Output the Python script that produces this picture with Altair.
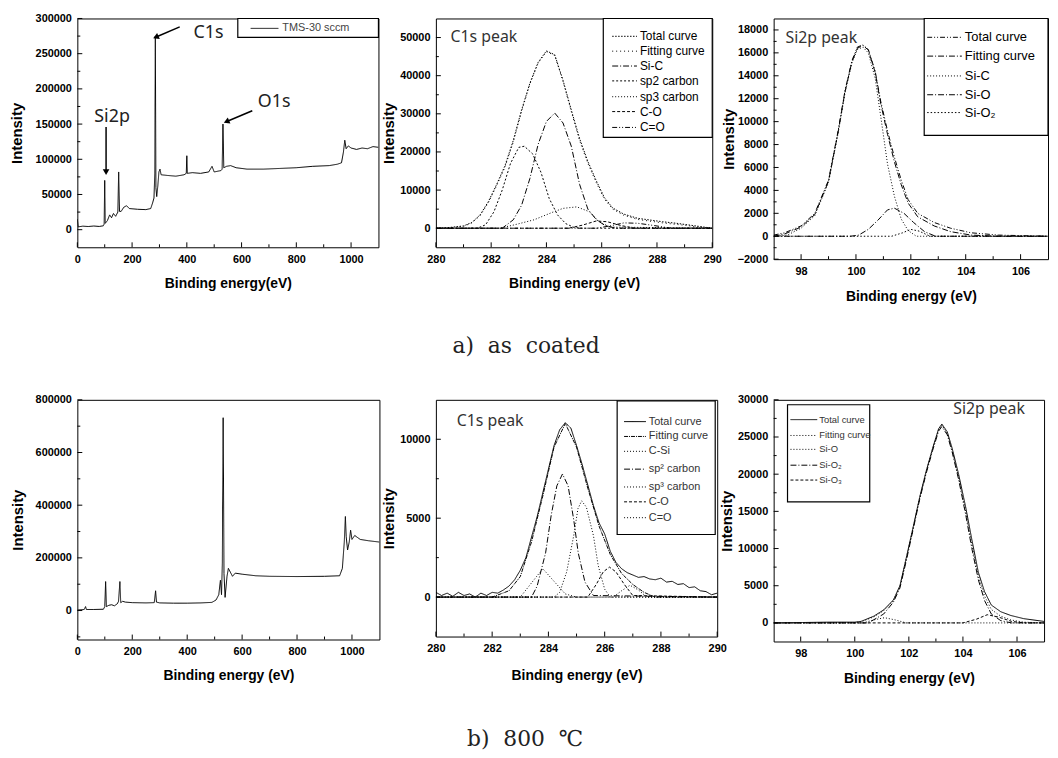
import altair as alt
import pandas as pd

FONT = "Liberation Sans"
SANS = "Noto Sans"
SERIF = "DejaVu Serif"

# ---------------- survey spectra ----------------
SURV_A_E = [0, 3, 20, 40, 60, 80, 95, 98, 100, 102, 110, 118, 125, 132, 140, 148, 151, 154, 160, 170,
            180, 190, 220, 250, 268, 275, 280, 283, 285, 287, 290, 294, 298, 302, 306, 330, 360, 390, 398, 400,
            402, 420, 450, 480, 492, 500, 525, 529, 532, 535, 545, 560, 580, 620, 680, 740, 800, 860, 920, 950,
            965, 972, 977, 982, 990, 1000, 1020, 1040, 1060, 1080, 1100]
SURV_A_I = [15000, 4000, 5000, 4500, 5200, 4600, 5500, 8000, 70000, 9000, 13000, 21000, 17000, 23000, 19000, 25000, 82000, 26000, 26000, 32000,
            34000, 30000, 29000, 28500, 30000, 38000, 45000, 80000, 275000, 60000, 47000, 62000, 82000, 86000, 78000, 77000, 76000, 78000, 80000, 105000,
            80000, 81000, 80000, 82000, 90000, 82000, 84000, 86000, 150000, 88000, 90000, 91000, 88000, 86000, 86000, 87000, 88000, 90000, 91000, 93000,
            95000, 110000, 127000, 115000, 119000, 116000, 114000, 116000, 115000, 118000, 117000]

SURV_B_E = [0, 10, 25, 30, 33, 60, 95, 100, 103, 106, 115, 125, 135, 145, 150, 155, 158, 165, 175, 200,
            250, 280, 285, 288, 300, 350, 400, 450, 490, 505, 515, 521, 525, 528, 531, 534, 538, 545, 550, 555,
            565, 575, 600, 650, 700, 800, 900, 955, 965, 972, 976, 979, 984, 990, 995, 1000, 1010, 1030, 1060, 1100]
SURV_B_I = [2000, 3000, 4000, 15000, 4000, 4000, 5000, 15000, 110000, 15000, 20000, 22000, 18000, 25000, 35000, 110000, 30000, 35000, 32000, 30000,
            29000, 30000, 75000, 32000, 29000, 28000, 28000, 29000, 31000, 40000, 60000, 115000, 60000, 180000, 732000, 140000, 50000, 130000, 160000, 150000,
            130000, 142000, 138000, 132000, 130000, 129000, 130000, 132000, 160000, 260000, 357000, 280000, 230000, 260000, 305000, 270000, 285000, 270000, 265000, 260000]

# annotations of the as-coated survey
ANN_TEXT = ["C1s", "Si2p", "O1s"]
ANN_E = [479, 127, 719]
ANN_I = [278600, 160000, 182000]
ARR_E0 = [374, 105, 639]
ARR_I0 = [288000, 146000, 169000]
ARR_E1 = [290, 105, 548]
ARR_I1 = [274000, 83000, 154000]

# ---------------- C1s, as coated ----------------
C1A_NAMES = ["Total curve", "Fitting curve", "Si-C", "sp2 carbon", "sp3 carbon", "C-O", "C=O"]
C1A_TOT_E = [280.0, 280.5, 281.0, 281.3, 281.6, 281.9, 282.2, 282.5, 282.8, 283.1, 283.4, 283.7, 284.0, 284.3, 284.6,
             284.9, 285.2, 285.5, 285.8, 286.1, 286.4, 286.8, 287.3, 287.8, 288.2, 288.7, 289.1, 289.5, 290.0]
C1A_TOT_I = [0, 200, 600, 1500, 3500, 7000, 11500, 16400, 23000, 31000, 38000, 43500, 46500, 45500, 38800,
             31000, 23500, 17500, 12500, 8000, 5300, 3700, 2600, 2100, 1700, 1300, 900, 500, 0]
C1A_FIT_I = [0, 100, 500, 1400, 3300, 6700, 11200, 16000, 22600, 30600, 37800, 43300, 46300, 45300, 38500,
             30600, 23000, 17000, 12000, 7600, 5000, 3400, 2300, 1800, 1400, 1000, 700, 300, 0]
C1A_SIC_E = [280.0, 282.4, 282.8, 283.1, 283.4, 283.7, 284.0, 284.3, 284.6, 284.9, 285.2, 285.5, 285.8, 286.1, 286.5, 290.0]
C1A_SIC_I = [0, 0, 2200, 6000, 13000, 22000, 28000, 30200, 27600, 21500, 11500, 5000, 2300, 800, 0, 0]
C1A_SP2_E = [280.0, 281.5, 281.8, 282.1, 282.4, 282.7, 283.0, 283.2, 283.5, 283.8, 284.1, 284.4, 284.7, 285.0, 285.3, 290.0]
C1A_SP2_I = [0, 0, 900, 4300, 10000, 17000, 21200, 21500, 19500, 14700, 7800, 3500, 1200, 200, 0, 0]
C1A_SP3_E = [280.0, 282.3, 282.85, 283.55, 284.26, 284.6, 285.1, 285.56, 285.9, 286.3, 290.0]
C1A_SP3_I = [0, 0, 900, 2200, 4300, 5200, 5600, 4300, 1700, 300, 0]
C1A_CO_E = [280.0, 284.8, 285.3, 285.8, 286.2, 286.7, 287.2, 290.0]
C1A_CO_I = [0, 0, 800, 1900, 1700, 700, 0, 0]
C1A_CdO_E = [280.0, 285.8, 286.3, 286.8, 287.3, 287.9, 288.5, 290.0]
C1A_CdO_I = [0, 0, 600, 1400, 1300, 700, 0, 0]

# ---------------- Si2p, as coated ----------------
SIA_NAMES = ["Total curve", "Fitting curve", "Si-C", "Si-O", "Si-O\u2082"]
SIA_TOT_E = [97.0, 97.4, 98.0, 98.5, 99.0, 99.35, 99.6, 99.85, 100.05, 100.25, 100.45, 100.7, 100.9, 101.15,
             101.4, 101.65, 101.9, 102.25, 102.85, 103.45, 104.2, 105.2, 107.0]
SIA_TOT_I = [100, 300, 900, 2000, 4900, 9200, 12700, 15300, 16500, 16700, 16300, 14400, 11800, 9200,
             6900, 4900, 3200, 2000, 1200, 700, 300, 100, 0]
SIA_FIT_I = [0, 200, 800, 1900, 4800, 9100, 12600, 15200, 16400, 16650, 16250, 14300, 11600, 8900,
             6500, 4500, 2900, 1700, 900, 400, 100, 0, 0]
SIA_SIC_E = [97.0, 97.5, 98.0, 98.5, 99.0, 99.35, 99.6, 99.85, 100.05, 100.25, 100.45, 100.7, 100.9, 101.15,
             101.4, 101.65, 101.9, 102.2, 107.0]
SIA_SIC_I = [0, 100, 700, 1800, 4700, 9000, 12500, 15100, 16300, 16500, 16000, 13800, 10500, 6300,
             3500, 1500, 500, 0, 0]
SIA_SIO_E = [97.0, 99.8, 100.1, 100.45, 100.8, 101.15, 101.4, 101.75, 102.1, 102.5, 102.9, 107.0]
SIA_SIO_I = [0, 0, 100, 600, 1400, 2300, 2450, 2000, 1200, 400, 0, 0]
SIA_SIO2_E = [97.0, 101.3, 101.7, 102.0, 102.3, 102.7, 107.0]
SIA_SIO2_I = [0, 0, 300, 600, 450, 0, 0]

# ---------------- C1s, 800 C ----------------
C1B_NAMES = ["Total curve", "Fitting curve", "C-Si", "sp\u00b2 carbon", "sp\u00b3 carbon", "C-O", "C=O"]
C1B_TOT_E = [280.0, 280.2, 280.4, 280.6, 280.8, 281.0, 281.2, 281.4, 281.6, 281.8,
             282.0, 282.2, 282.4, 282.6, 282.8, 283.0, 283.2, 283.4, 283.6, 283.8,
             284.0, 284.2, 284.4, 284.6, 284.8, 285.0, 285.2, 285.4, 285.6, 285.8,
             286.0, 286.2, 286.4, 286.6, 286.8, 287.0, 287.2, 287.4, 287.6, 287.8,
             288.0, 288.2, 288.4, 288.6, 288.8, 289.0, 289.2, 289.4, 289.6, 289.8, 290.0]
C1B_TOT_I = [300, 100, 250, 50, 300, 100, 200, 0, 250, 100,
             300, 250, 450, 700, 1100, 1700, 2500, 3800, 5100, 6600,
             8100, 9600, 10600, 11050, 10700, 9600, 8400, 7100, 5800, 4700,
             4000, 2900, 2200, 1800, 1550, 1400, 1250, 1300, 1150, 1100,
             1200, 950, 1000, 800, 850, 600, 650, 400, 350, 150, 250]
C1B_FIT_E = [280.0, 282.0, 282.6, 283.0, 283.4, 283.8, 284.2, 284.6, 285.0, 285.4, 285.8, 286.2, 286.6, 287.0, 287.4, 287.8, 290.0]
C1B_FIT_I = [0, 0, 400, 1300, 3500, 6400, 9500, 11000, 9500, 6900, 4500, 2700, 1500, 800, 300, 0, 0]
C1B_CSI_E = [280.0, 283.0, 283.4, 283.8, 284.2, 284.6, 285.0, 290.0]
C1B_CSI_I = [0, 0, 900, 1800, 1000, 200, 0, 0]
C1B_SP2_E = [280.0, 283.4, 283.6, 283.9, 284.1, 284.3, 284.5, 284.7, 284.9, 285.06, 285.3, 285.6, 290.0]
C1B_SP2_I = [0, 0, 700, 2800, 5200, 7050, 7800, 7050, 4900, 2800, 950, 100, 0]
C1B_SP3_E = [280.0, 284.2, 284.4, 284.65, 284.9, 285.05, 285.18, 285.35, 285.6, 285.77, 286.0, 286.2, 290.0]
C1B_SP3_I = [0, 0, 300, 1600, 3900, 5600, 6100, 5700, 3900, 2000, 500, 0, 0]
C1B_CO_E = [280.0, 285.4, 285.7, 285.95, 286.17, 286.4, 286.7, 287.0, 290.0]
C1B_CO_I = [0, 0, 800, 1600, 1900, 1600, 800, 100, 0]
C1B_CdO_E = [280.0, 286.3, 286.6, 286.9, 287.2, 287.5, 290.0]
C1B_CdO_I = [0, 0, 400, 750, 450, 0, 0]

# ---------------- Si2p, 800 C ----------------
SIB_NAMES = ["Total curve", "Fitting curve", "Si-O", "Si-O\u2082", "Si-O\u2083"]
SIB_TOT_E = [97.0, 98.0, 99.0, 100.0, 100.23, 100.7, 101.07, 101.43, 101.67, 101.92, 102.16, 102.4, 102.64, 102.88,
             103.1, 103.22, 103.42, 103.6, 103.84, 104.1, 104.33, 104.57, 104.8, 105.05, 105.4, 105.77, 106.25, 107.0]
SIB_TOT_I = [0, 50, 100, 100, 200, 900, 1750, 3100, 5000, 9000, 12900, 16900, 20400, 23500,
             26100, 26750, 25700, 23500, 20000, 15600, 11200, 6800, 4200, 2400, 1500, 1000, 570, 200]
SIB_FIT_I = [0, 0, 0, 50, 150, 800, 1650, 3000, 4900, 8900, 12800, 16800, 20300, 23400,
             26000, 26600, 25500, 23200, 19600, 15000, 10500, 6300, 3600, 1800, 900, 400, 100, 0]
SIB_SIO_E = [97.0, 100.3, 100.7, 101.1, 101.5, 101.9, 107.0]
SIB_SIO_I = [0, 0, 400, 700, 400, 0, 0]
SIB_SIO2_E = [97.0, 100.5, 101.07, 101.43, 101.67, 101.92, 102.16, 102.4, 102.64, 102.88, 103.1, 103.22,
              103.42, 103.6, 103.84, 104.1, 104.33, 104.57, 104.8, 105.05, 105.4, 105.8, 107.0]
SIB_SIO2_I = [0, 0, 1200, 2800, 4700, 8600, 12600, 16600, 20100, 23200, 25800, 26400,
              25300, 23000, 19300, 14600, 10000, 5800, 3000, 1200, 300, 0, 0]
SIB_SIO3_E = [97.0, 104.0, 104.5, 104.9, 105.3, 105.8, 106.3, 107.0]
SIB_SIO3_I = [0, 0, 500, 1100, 800, 200, 0, 0]

# ---------------- tick values & texts ----------------
X_SURV = [0, 200, 400, 600, 800, 1000]
X_C1S = [280, 282, 284, 286, 288, 290]
X_SI = [98, 100, 102, 104, 106]
Y_SURV_A = [0, 50000, 100000, 150000, 200000, 250000, 300000]
Y_C1S_A = [0, 10000, 20000, 30000, 40000, 50000]
Y_SI_A = [-2000, 0, 2000, 4000, 6000, 8000, 10000, 12000, 14000, 16000, 18000]
Y_SURV_B = [0, 200000, 400000, 600000, 800000]
Y_C1S_B = [0, 5000, 10000]
Y_SI_B = [0, 5000, 10000, 15000, 20000, 25000, 30000]

PEAK_TEXT = ["C1s peak", "Si2p peak", "C1s peak", "Si2p peak"]
PEAK_E = [280.53, 97.43, 280.74, 103.64]
PEAK_I = [50200, 17300, 11140, 28700]

SURVEY_NAME_A = "TMS-30 sccm"
CAPTION_A = "a)\u00a0 as\u00a0 coated"
CAPTION_B = "b)\u00a0 800\u00a0 \u2103"

# ---------------- styles ----------------
SOLID = [1, 0]
DOT_FINE = [1.5, 1.5]
DOT = [1, 2]
DOT_WIDE = [1, 3]
DASH = [3, 2]
DASH_DOT = [6, 2, 1, 2]
DASH_DOT_DOT = [5, 2, 1, 2, 1, 2]

ONE = pd.DataFrame({"k": [0]})


def curves_df(names, es, is_):
    rows = []
    for n, E, I in zip(names, es, is_):
        for k, (e, i) in enumerate(zip(E, I)):
            rows.append({"series": n, "E": e, "I": i, "k": k})
    return pd.DataFrame(rows)


def minor(ticks, dom):
    step = ticks[1] - ticks[0]
    out = [t + step / 2 for t in [ticks[0] - step] + ticks]
    return [v for v in out if dom[0] < v < dom[1]]


def x_axis(values, title, ty):
    return alt.Axis(values=values, format="d", title=title, titleY=ty, titleBaseline="middle",
                    titleFont=FONT, titleFontSize=14, titleFontWeight="bold", titleColor="black",
                    labelFont=FONT, labelFontSize=11, labelFontWeight="bold", labelColor="black",
                    labelPadding=6, labelFlush=False, labelOverlap=False,
                    ticks=False, domain=False, grid=False)


def y_axis(values, tx):
    return alt.Axis(values=values, format="d", title="Intensity", titleX=tx, titleAngle=270,
                    titleAlign="center", titleBaseline="middle",
                    titleFont=FONT, titleFontSize=15, titleFontWeight="bold", titleColor="black",
                    labelFont=FONT, labelFontSize=11, labelFontWeight="bold", labelColor="black",
                    labelPadding=6, labelFlush=False, labelOverlap=False,
                    ticks=False, domain=False, grid=False)


def legend_layers(names, dashes, box, rows, sym, tx, fs, color):
    x0, x1, y0, y1 = box
    out = [alt.Chart(ONE).mark_rect(fill="white", stroke="black", strokeWidth=1.2).encode(
        x=alt.value(x0), x2=alt.value(x1), y=alt.value(y0), y2=alt.value(y1))]
    for n, d, ry in zip(names, dashes, rows):
        out.append(alt.Chart(ONE).mark_rule(color="black", strokeWidth=1, strokeDash=d).encode(
            x=alt.value(sym[0]), x2=alt.value(sym[1]), y=alt.value(ry)))
        out.append(alt.Chart(ONE).mark_text(font=FONT, fontSize=fs, color=color, align="left",
                                            baseline="middle").encode(
            x=alt.value(tx), y=alt.value(ry), text=alt.value(n)))
    return out


def make_panel(names, es, is_, dashes, xdom, ydom, xt, yt, w, h, xtitle, tx, ty, extra_fn=None):
    xs = alt.Scale(domain=xdom, nice=False, zero=False)
    ys = alt.Scale(domain=ydom, nice=False, zero=False)
    xa = x_axis(xt, xtitle, ty)
    ya = y_axis(yt, tx)

    def XF(f):
        return alt.X(f, scale=xs, axis=xa)

    def YF(f):
        return alt.Y(f, scale=ys, axis=ya)

    df = curves_df(names, es, is_)
    lines = alt.Chart(df).mark_line(color="black", strokeWidth=1, clip=True).encode(
        x=XF("E:Q"),
        y=YF("I:Q"),
        strokeDash=alt.StrokeDash("series:N", scale=alt.Scale(domain=names, range=dashes), legend=None),
        order="k:Q",
    )
    layers = [lines]
    for vals, size in ((yt, 5), (minor(yt, ydom), 3)):
        layers.append(alt.Chart(pd.DataFrame({"v": vals})).mark_rule(color="black", strokeWidth=1).encode(
            y=YF("v:Q"), x=alt.value(0), x2=alt.value(size)))
    for vals, size in ((xt, 5), (minor(xt, xdom), 3)):
        layers.append(alt.Chart(pd.DataFrame({"v": vals})).mark_rule(color="black", strokeWidth=1).encode(
            x=XF("v:Q"), y=alt.value(h), y2=alt.value(h - size)))
    if extra_fn is not None:
        layers += extra_fn(XF, YF, w, h)
    return alt.layer(*layers).properties(width=w, height=h)


def peak_label(i, XF, YF):
    d = pd.DataFrame({"t": [PEAK_TEXT[i]], "E": [PEAK_E[i]], "I": [PEAK_I[i]]})
    return alt.Chart(d).mark_text(font=SANS, fontSize=16, color="#333", align="left", baseline="middle").encode(
        x=XF("E:Q"), y=YF("I:Q"), text="t:N")


def caption(text, x, y):
    return alt.Chart(ONE).mark_text(font=SERIF, fontSize=22, color="#222", align="center",
                                    baseline="middle").encode(
        x=alt.value(x), y=alt.value(y), text=alt.value(text))


# ---- panel 1: survey as coated ----
def p1_extra(XF, YF, w, h):
    ann = pd.DataFrame({"t": ANN_TEXT, "E": ANN_E, "I": ANN_I})
    arr = pd.DataFrame({"E0": ARR_E0, "I0": ARR_I0, "E1": ARR_E1, "I1": ARR_I1})
    out = [
        alt.Chart(ann).mark_text(font=SANS, fontSize=18, color="#222", align="center", baseline="middle").encode(
            x=XF("E:Q"), y=YF("I:Q"), text="t:N"),
        alt.Chart(arr).mark_rule(color="black", strokeWidth=1.5).encode(
            x=XF("E0:Q"), y=YF("I0:Q"), x2="E1:Q", y2="I1:Q"),
        alt.Chart(arr.iloc[[0, 2]]).mark_point(shape="triangle", filled=True, size=45, color="black",
                                              opacity=1, angle=246).encode(
            x=XF("E1:Q"), y=YF("I1:Q")),
        alt.Chart(arr.iloc[[1]]).mark_point(shape="triangle", filled=True, size=45, color="black",
                                           opacity=1, angle=180).encode(
            x=XF("E1:Q"), y=YF("I1:Q")),
    ]
    out += legend_layers([SURVEY_NAME_A], [SOLID], (162, w, 0, 19), [10], (175, 203), 207, 11, "#444")
    return out


P1 = make_panel([SURVEY_NAME_A], [SURV_A_E], [SURV_A_I], [SOLID], [0, 1100], [-25000, 300000],
                X_SURV, Y_SURV_A, 304, 231, "Binding energy(eV)", -61, 37, p1_extra)


# ---- panel 2: C1s as coated ----
def p2_extra(XF, YF, w, h):
    out = [peak_label(0, XF, YF)]
    out += legend_layers(C1A_NAMES, [DOT_FINE, DOT_WIDE, DASH_DOT, [2, 2], DOT, DASH, DASH_DOT_DOT],
                         (w - 110, w, 0, 120), [18, 33, 48, 63, 79, 94, 110], (w - 101, w - 76), w - 73, 12,
                         "black")
    out.append(caption(CAPTION_A, 91, 331))
    return out


P2 = make_panel(C1A_NAMES,
                [C1A_TOT_E, C1A_TOT_E, C1A_SIC_E, C1A_SP2_E, C1A_SP3_E, C1A_CO_E, C1A_CdO_E],
                [C1A_TOT_I, C1A_FIT_I, C1A_SIC_I, C1A_SP2_I, C1A_SP3_I, C1A_CO_I, C1A_CdO_I],
                [DOT_FINE, DOT_WIDE, DASH_DOT, [2, 2], DOT, DASH, DASH_DOT_DOT],
                [280, 290], [-5000, 55000], X_C1S, Y_C1S_A, 279, 231, "Binding energy (eV)", -48, 37,
                p2_extra)


# ---- panel 3: Si2p as coated ----
def p3_extra(XF, YF, w, h):
    out = [peak_label(1, XF, YF)]
    out += legend_layers(SIA_NAMES, [DASH_DOT_DOT, DASH_DOT, DOT, DASH_DOT, [1.5, 2]],
                         (w - 125, w, 0, 118), [19, 38, 58, 77, 95], (w - 122, w - 87), w - 84, 13, "black")
    return out


P3 = make_panel(SIA_NAMES,
                [SIA_TOT_E, SIA_TOT_E, SIA_SIC_E, SIA_SIO_E, SIA_SIO2_E],
                [SIA_TOT_I, SIA_FIT_I, SIA_SIC_I, SIA_SIO_I, SIA_SIO2_I],
                [DASH_DOT_DOT, DASH_DOT, DOT, DASH_DOT, [1.5, 2]],
                [97, 107], [-2000, 19000], X_SI, Y_SI_A, 277, 243, "Binding energy (eV)", -46, 38,
                p3_extra)

# ---- panel 4: survey 800 C ----
P4 = make_panel(["survey"], [SURV_B_E], [SURV_B_I], [SOLID], [0, 1100], [-110000, 800000],
                X_SURV, Y_SURV_B, 305, 242, "Binding energy (eV)", -60, 36)


# ---- panel 5: C1s 800 C ----
def p5_extra(XF, YF, w, h):
    out = [peak_label(2, XF, YF)]
    out += legend_layers(C1B_NAMES, [SOLID, [4, 1, 1, 1], DOT, DASH_DOT, DOT, DASH, DOT],
                         (w - 101, w - 2, 1, 136), [22, 37, 52, 70, 88, 103, 119], (w - 94, w - 72), w - 69, 11,
                         "#333")
    out.append(caption(CAPTION_B, 90, 342))
    return out


P5 = make_panel(C1B_NAMES,
                [C1B_TOT_E, C1B_FIT_E, C1B_CSI_E, C1B_SP2_E, C1B_SP3_E, C1B_CO_E, C1B_CdO_E],
                [C1B_TOT_I, C1B_FIT_I, C1B_CSI_I, C1B_SP2_I, C1B_SP3_I, C1B_CO_I, C1B_CdO_I],
                [SOLID, [4, 1, 1, 1], DOT, DASH_DOT, DOT, DASH, DOT],
                [280, 290], [-2500, 12500], X_C1S, Y_C1S_B, 284, 239, "Binding energy (eV)", -48, 39,
                p5_extra)


# ---- panel 6: Si2p 800 C ----
def p6_extra(XF, YF, w, h):
    out = [peak_label(3, XF, YF)]
    out += legend_layers(SIB_NAMES, [SOLID, DOT, DOT, DASH_DOT, DASH],
                         (14, 97, 5, 103), [20, 36, 50, 66, 81], (17, 44), 46, 9.5, "#333")
    return out


P6 = make_panel(SIB_NAMES,
                [SIB_TOT_E, SIB_TOT_E, SIB_SIO_E, SIB_SIO2_E, SIB_SIO3_E],
                [SIB_TOT_I, SIB_FIT_I, SIB_SIO_I, SIB_SIO2_I, SIB_SIO3_I],
                [SOLID, DOT, DOT, DASH_DOT, DASH],
                [97, 107], [-2500, 30000], X_SI, Y_SI_B, 273, 244, "Binding energy (eV)", -48, 37,
                p6_extra)

chart = alt.concat(
    P1, P2, P3, P4, P5, P6,
    columns=3,
    spacing={"row": 142, "column": 57},
    bounds="flush",
    align={"row": "each", "column": "none"},
).resolve_scale(
    strokeDash="independent"
).properties(
    padding={"left": 1, "top": 0, "right": 0, "bottom": 0},
    background="white",
).configure_view(
    stroke="black", strokeWidth=1
)

chart.save("out.html", embed_options={"renderer": "svg", "actions": False})
